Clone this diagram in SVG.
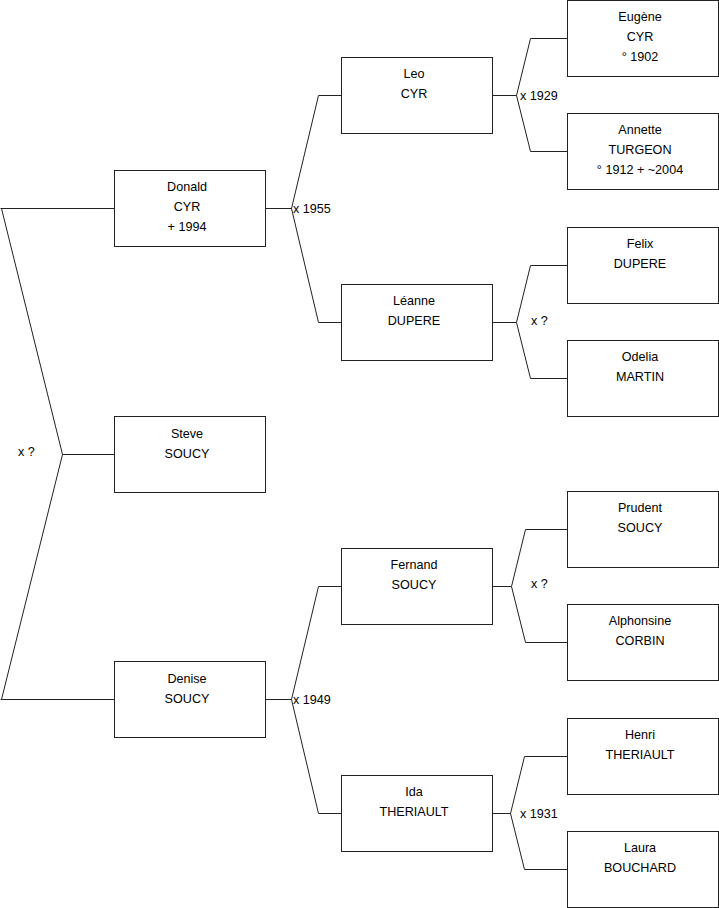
<svg xmlns="http://www.w3.org/2000/svg" width="719" height="908" viewBox="0 0 719 908">
<style>
.box{fill:#fff;stroke:#222;stroke-width:1}
.c{fill:none;stroke:#222;stroke-width:1}
text{font-family:"Liberation Sans",Arial,sans-serif;font-size:12.6px;fill:#000}
.n{text-anchor:middle}
</style>
<rect width="719" height="908" fill="#fff"/>
<g id="connectors">
<path class="c" d="M0.5,208.5H114.5 M1.5,208.5L62.5,454.5L1.5,699.5 M62.5,454.5H114.5 M0.5,699.5H114.5"/>
<path class="c" d="M265.5,208.5H291.5 M341.5,95.5H318.5L291.5,208.5L318.5,322.5H341.5"/>
<path class="c" d="M265.5,699.5H291.5 M341.5,586.5H318.5L291.5,699.5L318.5,813.5H341.5"/>
<path class="c" d="M492.5,95.5H516.5 M567.5,38.5H530.5L516.5,95.5L530.5,151.5H567.5"/>
<path class="c" d="M492.5,322.5H516.5 M567.5,265.5H530.5L516.5,322.5L530.5,378.5H567.5"/>
<path class="c" d="M492.5,586.5H511.5 M567.5,529.5H525.5L511.5,586.5L525.5,642.5H567.5"/>
<path class="c" d="M492.5,813.5H510.5 M567.5,756.5H524.5L510.5,813.5L524.5,869.5H567.5"/>
<text x="18" y="456">x ?</text>
<text x="293" y="213">x 1955</text>
<text x="293" y="704">x 1949</text>
<text x="520" y="100">x 1929</text>
<text x="531" y="325">x ?</text>
<text x="531" y="588">x ?</text>
<text x="520" y="818">x 1931</text>
</g>
<g id="donald"><rect class="box" x="114.5" y="170.5" width="151" height="76"/><text class="n" x="187" y="191">Donald</text><text class="n" x="187" y="211">CYR</text><text class="n" x="187" y="231">+ 1994</text></g>
<g id="steve"><rect class="box" x="114.5" y="416.5" width="151" height="76"/><text class="n" x="187" y="438">Steve</text><text class="n" x="187" y="458">SOUCY</text></g>
<g id="denise"><rect class="box" x="114.5" y="661.5" width="151" height="76"/><text class="n" x="187" y="683">Denise</text><text class="n" x="187" y="703">SOUCY</text></g>
<g id="leo"><rect class="box" x="341.5" y="57.5" width="151" height="76"/><text class="n" x="414" y="78">Leo</text><text class="n" x="414" y="98">CYR</text></g>
<g id="leanne"><rect class="box" x="341.5" y="284.5" width="151" height="76"/><text class="n" x="414" y="305">Léanne</text><text class="n" x="414" y="325">DUPERE</text></g>
<g id="fernand"><rect class="box" x="341.5" y="548.5" width="151" height="76"/><text class="n" x="414" y="569">Fernand</text><text class="n" x="414" y="589">SOUCY</text></g>
<g id="ida"><rect class="box" x="341.5" y="775.5" width="151" height="76"/><text class="n" x="414" y="796">Ida</text><text class="n" x="414" y="816">THERIAULT</text></g>
<g id="eugene"><rect class="box" x="567.5" y="0.5" width="151" height="76"/><text class="n" x="640" y="21">Eugène</text><text class="n" x="640" y="41">CYR</text><text class="n" x="640" y="61">° 1902</text></g>
<g id="annette"><rect class="box" x="567.5" y="113.5" width="151" height="76"/><text class="n" x="640" y="134">Annette</text><text class="n" x="640" y="154">TURGEON</text><text class="n" x="640" y="174">° 1912 + ~2004</text></g>
<g id="felix"><rect class="box" x="567.5" y="227.5" width="151" height="76"/><text class="n" x="640" y="248">Felix</text><text class="n" x="640" y="268">DUPERE</text></g>
<g id="odelia"><rect class="box" x="567.5" y="340.5" width="151" height="76"/><text class="n" x="640" y="361">Odelia</text><text class="n" x="640" y="381">MARTIN</text></g>
<g id="prudent"><rect class="box" x="567.5" y="491.5" width="151" height="76"/><text class="n" x="640" y="512">Prudent</text><text class="n" x="640" y="532">SOUCY</text></g>
<g id="alphonsine"><rect class="box" x="567.5" y="604.5" width="151" height="76"/><text class="n" x="640" y="625">Alphonsine</text><text class="n" x="640" y="645">CORBIN</text></g>
<g id="henri"><rect class="box" x="567.5" y="718.5" width="151" height="76"/><text class="n" x="640" y="739">Henri</text><text class="n" x="640" y="759">THERIAULT</text></g>
<g id="laura"><rect class="box" x="567.5" y="831.5" width="151" height="76"/><text class="n" x="640" y="852">Laura</text><text class="n" x="640" y="872">BOUCHARD</text></g>
</svg>
